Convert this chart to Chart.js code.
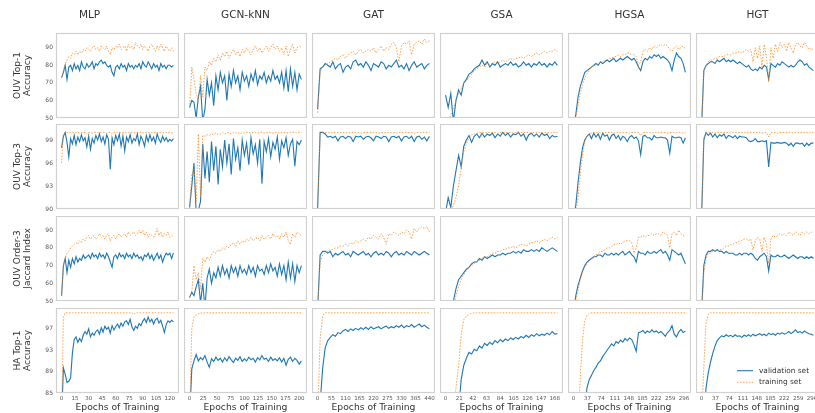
<!DOCTYPE html>
<html lang="en">
<head>
  <meta charset="UTF-8" />
  <title>Training curves</title>
  <script src="https://cdn.jsdelivr.net/npm/chart.js"></script>
  <style>
    body { margin: 0; background: #fff; }
    #wrap { position: relative; width: 815px; height: 413px; overflow: hidden; }
    #wrap canvas { position: absolute; }
  </style>
</head>
<body>
<div id="wrap"></div>

<script>
  // ---- data ----
  const models = ["MLP", "GCN-kNN", "GAT", "GSA", "HGSA", "HGT"];
  const metrics = [["OUV Top-1", "Accuracy"], ["OUV Top-3", "Accuracy"], ["OUV Order-3", "Jaccard Index"], ["HA Top-1", "Accuracy"]];
  const epochStep = [2, 4, 10, 4, 6, 6];
  const xTicks = [
    [0, 15, 30, 45, 60, 75, 90, 105, 120],
    [0, 25, 50, 75, 100, 125, 150, 175, 200],
    [0, 55, 110, 165, 220, 275, 330, 385, 440],
    [0, 21, 42, 63, 84, 105, 126, 147, 168],
    [0, 37, 74, 111, 148, 185, 222, 259, 296],
    [0, 37, 74, 111, 148, 185, 222, 259, 296]
  ];
  const yTicks = [[50, 60, 70, 80, 90], [90, 93, 96, 99], [50, 60, 70, 80, 90], [85, 89, 93, 97]];
  const yMin = [50, 90, 50, 85];
  const yMax = [98.4, 101.1, 98, 100.9];

  // MLP
  const mlpTop1Val = [73,76,80,72,79,80,77,81,78,80,77,82,79,78,81,79,80,82,78,81,80,82,83,81,82,80,79,80,76,74,79,80,78,81,79,80,77,81,79,80,78,80,79,81,78,82,80,79,82,80,78,81,79,80,77,81,79,80,78,80,80,79,80];
  const mlpTop1Train = [73,77,81,83,85,84,87,86,88,86,88,87,89,88,90,89,88,90,91,89,90,88,91,90,89,91,88,86,90,89,91,90,92,89,90,91,88,92,90,91,89,93,91,90,92,89,91,90,88,91,92,90,88,91,89,92,90,88,91,89,88,90,88];
  const mlpTop3Val = [98,99.5,100,98.7,96.8,99.2,98.5,99.6,98.4,99.4,98.8,99.7,98.9,99.3,98.1,99.5,97.8,99.2,98.6,99.6,99.0,99.8,98.8,99.4,98.5,99.7,99.1,95.2,99.3,98.4,99.6,98.9,99.8,98.2,99.5,97.6,99.4,98.8,99.7,98.6,99.2,98.9,99.8,98.4,99.5,99.0,98.2,99.6,98.8,99.7,98.9,99.4,98.6,99.8,99.1,98.7,99.5,98.9,99.3,98.8,99.1,98.9,99.2];
  const mlpTop3Train = [96,99.8,100,100,99.9,100,100,99.9,100,100,99.9,100,100,100,99.8,100,100,99.9,100,100,100,99.9,100,100,100,99.9,100,100,99.8,100,100,100,99.9,100,100,100,99.9,100,100,100,99.9,100,100,100,100,99.9,100,100,100,99.9,100,100,100,99.9,100,100,100,99.9,100,100,100,99.9,100];
  const mlpJacVal = [53,70,74,66,73,69,74,71,75,72,74,73,76,74,75,76,74,77,75,76,74,77,75,76,74,77,75,72,69,75,76,74,77,75,76,74,77,75,76,74,77,75,76,74,75,73,76,75,77,74,76,73,75,77,74,76,72,75,77,76,77,74,77];
  const mlpJacTrain = [53,70,74,77,78,80,81,82,83,82,84,83,85,84,86,87,85,86,87,85,86,88,86,87,85,87,88,84,86,87,85,87,88,86,87,88,86,89,87,88,89,87,88,90,88,90,87,89,86,88,87,86,88,91,87,89,86,88,87,89,86,87,86];
  const mlpHaVal = [80,89.7,88.5,87,87.2,87.8,92.5,95,95.5,94.5,95.2,94.6,95.8,96.5,96,97,95.5,96.2,95.8,96.5,96.8,96,97.2,96.4,97.5,96.9,97.3,96.2,97.6,96.8,97.4,97.9,97.2,98.1,97.5,98.3,98.5,97.8,98.8,97.4,96.7,97.5,97.1,98,97.6,98.4,98.9,98.2,99.2,98.3,98.8,97.9,98.7,99,98.1,98.6,97.5,96.3,97.8,98.5,98.2,98.6,98.3];
  const mlpHaTrain = [80,99.2,100,100,100,100,100,100,100,100,100,100,100,100,100,100,100,100,100,100,100,100,100,100,100,100,100,100,100,100,100,100,100,100,100,100,100,100,100,100,99.7,100,100,100,100,100,100,100,100,100,100,100,100,100,100,100,100,100,100,100,100,100,100];

  // GCN-kNN
  const gcnTop1Val = [56,60,59,50,62,68,48,55,72,63,70,57,74,66,76,70,74,60,75,68,77,70,74,66,76,71,74,68,75,71,77,69,74,72,76,70,74,71,77,72,74,70,76,67,77,65,78,68,76,66,75,72];
  const gcnTop1Train = [56,79,72,64,60,74,62,79,77,82,80,84,82,86,83,87,85,88,84,87,89,86,88,85,89,87,90,88,86,89,91,88,90,87,89,91,88,90,92,89,91,88,90,86,91,85,89,92,87,90,91,90];
  const gcnTop3Val = [90.2,93.0,96.0,89.5,89.8,91.0,98.5,94.0,97.5,93.5,98.8,95.0,98.2,93.2,97.8,95.5,99.0,96.0,98.5,94.5,99.2,96.5,98.0,95.0,99.0,97.0,98.6,95.8,99.3,97.2,98.4,96.0,99.1,93.3,98.8,97.5,99.2,96.8,98.7,97.8,99.4,96.5,98.9,98.0,99.3,97.0,98.5,99.1,95.6,98.8,98.4,99.0];
  const gcnTop3Train = [90,94.5,95.2,91.0,99.8,91.5,99.6,99.5,99.7,99.6,99.8,99.7,99.9,99.7,99.8,100,99.8,99.9,100,99.8,100,99.9,100,99.8,100,99.9,100,100,99.9,100,100,99.9,100,100,99.9,100,100,100,99.9,100,100,99.9,100,100,100,99.9,100,100,100,99.9,100,100];
  const gcnJacVal = [52,55,53,58,62,49,60,46,63,68,60,66,63,69,64,70,65,68,63,70,66,69,64,70,66,68,65,70,66,69,64,70,67,68,65,70,66,71,67,69,64,71,65,70,62,72,63,71,61,70,66,70];
  const gcnJacTrain = [52,55,70,62,66,57,74,72,75,73,76,78,77,79,78,80,79,81,80,82,83,81,84,82,84,83,85,84,86,84,85,86,84,87,85,86,87,85,88,86,87,85,88,86,89,84,82,88,86,89,88,87];
  const gcnHaVal = [80,89.5,91,92.2,91,91.6,91.2,92,90.8,89.8,91.4,90.9,91.7,91.1,91.5,90.8,91.6,91,91.8,91.2,90.7,91.5,91.1,91.8,90.9,91.4,91,91.7,91.2,91.5,90.8,91.6,91.2,92,91.3,91.5,90.9,91.7,91.1,91.4,91,91.6,90.8,91.5,90.2,91.3,91.7,90.9,91.5,91.1,90.4,91];
  const gcnHaTrain = [80,97,99.2,99.6,99.8,100,99.9,100,100,100,100,100,100,100,100,100,100,100,100,100,100,100,100,100,100,100,100,100,100,100,100,100,100,100,100,100,100,100,100,100,100,100,100,100,100,100,100,100,100,100,100,100];

  // GAT
  const gatTop1Val = [55,78,79,81,80,79,82,78,80,81,76,79,80,78,82,83,80,81,79,82,80,77,81,80,79,82,81,78,80,79,81,83,79,80,78,81,77,80,82,79,80,81,78,80,81];
  const gatTop1Train = [53,76,79,80,81,82,83,84,83,85,86,84,86,87,88,86,88,89,87,88,89,88,90,87,89,91,88,90,89,92,93,90,82,91,93,92,94,86,92,93,94,92,95,93,94];
  const gatTop3Val = [90,100,100,99.8,99.4,99.5,99.3,99.5,98.9,99.4,99.5,99.2,99.5,99.4,98.8,99.5,99.4,99.5,99.1,99.4,99.5,99.3,98.9,99.5,99.4,99.2,99.5,99.4,98.8,99.4,99.5,99.3,99.5,98.9,99.4,99.5,99.2,99.5,98.8,99.4,99.5,99.1,99.4,98.9,99.5];
  const gatTop3Train = [90,99.9,100,100,100,99.9,100,100,100,100,100,99.9,100,100,100,100,100,99.9,100,100,100,100,100,100,99.9,100,100,100,100,100,100,99.9,100,100,100,100,100,100,99.9,100,100,100,100,100,100];
  const gatJacVal = [45,76,78,78,77,78,75,77,76,77,78,76,77,75,78,77,76,77,78,76,77,75,77,78,76,77,76,78,77,75,77,78,76,77,76,78,77,76,78,77,76,77,78,77,76];
  const gatJacTrain = [45,72,76,77,78,79,79,80,80,81,81,82,81,83,82,84,83,84,85,84,86,85,87,86,85,88,86,82,88,87,89,88,87,89,88,90,89,85,91,89,91,92,91,92,89];
  const gatHaVal = [80,83,89.7,93.5,94.8,95.4,95.9,95.6,96.3,96.1,96.6,96.9,96.5,97.0,96.7,97.1,96.8,97.2,96.9,97.3,96.9,97.4,97.0,97.2,97.4,97.0,97.3,97.5,97.1,97.4,97.2,97.6,97.3,97.7,97.2,97.6,97.4,97.8,97.3,97.6,97.9,97.4,97.7,97.3,97.0];
  const gatHaTrain = [80,95,99.5,100,100,100,100,100,100,100,100,100,100,100,100,100,100,100,100,100,100,100,100,100,100,100,100,100,100,100,100,100,100,100,100,100,100,100,100,100,100,100,100,100,100];

  // GSA
  const gsaTop1Val = [63,56,64,48,60,66,63,70,72,75,76,78,79,80,83,80,82,79,81,80,82,79,80,81,80,82,80,81,79,80,82,80,81,79,81,80,82,80,81,79,81,80,82,80];
  const gsaTop1Train = [50,48,52,55,60,64,67,70,71,73,75,77,78,79,80,79,81,80,81,82,81,82,83,82,83,84,83,84,84,85,84,85,86,85,86,87,86,87,88,87,88,88,89,88];
  const gsaTop3Val = [89.5,91.5,90.2,93.0,95.0,97.0,95.5,98.2,99.0,99.6,98.7,99.5,99.8,99.3,99.9,99.4,99.8,99.6,99.9,99.3,99.8,99.5,100,99.6,99.9,99.4,99.8,99.7,100,99.5,99.8,99.0,99.7,99.9,99.5,99.8,99.4,99.9,99.6,99.8,99.2,99.6,99.4,99.5];
  const gsaTop3Train = [88.5,89.0,89.5,90.5,91.5,93.0,95.5,97.5,98.5,99.3,99.7,99.8,99.9,100,100,99.9,100,100,100,100,99.9,100,100,100,100,100,99.9,100,100,100,100,100,100,99.9,100,100,100,100,100,100,99.9,100,100,100];
  const gsaJacVal = [44,44,45,50,57,62,64,66,68,69,71,72,72,74,73,75,74,75,76,75,76,76,77,76,77,77,78,77,78,77,79,78,78,79,78,79,78,80,79,78,79,80,79,78];
  const gsaJacTrain = [44,44,44,46,53,58,62,65,67,69,70,71,72,73,74,75,75,76,77,77,78,78,79,79,80,80,81,80,81,82,82,81,82,83,83,84,83,84,85,84,85,86,85,86];
  const gsaHaVal = [80,80,80,80,80,82,87.5,90.2,91.5,92.6,92.3,93.2,92.9,93.8,93.4,94.3,93.9,94.5,94.1,94.8,94.4,95,94.6,95.1,94.8,95.3,95,95.4,95.1,95.6,95.3,95.8,95.4,95.9,95.6,96.1,95.7,96,95.8,96.2,95.9,96.5,96,96.1];
  const gsaHaTrain = [80,80,80,80,86,90,96,98.7,99.4,99.7,99.9,100,100,100,100,100,100,100,100,100,100,100,100,100,100,100,100,100,100,100,100,100,100,100,100,100,100,100,100,100,100,100,100,100];

  // HGSA
  const hgsaTop1Val = [45,52,62,68,72,76,77,78,79,80,81,80,82,81,82,83,82,83,84,82,83,84,83,84,85,84,83,84,82,79,77,82,84,83,85,84,86,85,86,84,85,84,83,81,77,83,87,85,84,81,76];
  const hgsaTop1Train = [45,50,57,64,69,73,75,77,79,80,80,81,82,82,83,83,84,84,85,85,86,85,86,86,87,87,86,86,85,80,82,88,89,88,90,89,91,90,91,92,91,92,91,89,88,90,91,89,90,91,89];
  const hgsaTop3Val = [89,90.5,93.5,96,98,99,99.5,99.8,99.2,99.9,99.4,99.8,99.1,99.9,99.5,99.7,99.0,99.6,99.8,99.2,99.6,99.0,99.5,99.3,98.8,99.4,99.6,99.2,99.4,98.9,97.1,99.5,99.6,99.3,99.3,99.0,99.6,99.3,99.3,99.4,99.3,99.3,99.0,97.3,99.5,99.3,99.3,99.4,99.3,98.6,99.3];
  const hgsaTop3Train = [88.5,89.5,91.5,94.5,97,98.8,99.5,99.8,99.9,100,100,100,99.9,100,100,100,100,100,99.9,100,100,100,100,100,100,99.9,100,100,100,100,99.6,100,100,100,100,99.9,100,100,100,100,100,100,99.9,100,100,100,100,100,100,99.9,100];
  const hgsaJacVal = [44,53,59,63,67,70,72,73,74,75,75,76,76,75,77,76,76,77,76,77,76,77,78,76,77,78,76,75,72,78,77,77,76,78,77,77,78,77,78,79,77,78,76,73,79,78,77,76,77,74,71];
  const hgsaJacTrain = [44,51,56,62,66,69,71,73,74,75,76,77,78,78,79,80,80,81,82,82,83,82,83,84,84,84,83,77,80,86,86,87,86,87,87,88,87,88,88,87,89,88,87,80,88,89,87,90,88,87,86];
  const hgsaHaVal = [80,80,80,80,80,82,86,87.5,88.3,89.2,89.8,90.6,91,91.8,92.4,93,93.6,94.2,93.8,94.6,94.3,94.9,94.5,95.2,94.8,95.3,95,94,92.8,96.3,96.4,96.7,96.2,96.6,96.3,96.8,96.4,96.6,96.2,96.5,96.1,95.6,96.3,96.7,97.6,96,95.5,96.4,96.9,96.3,96.6];
  const hgsaHaTrain = [80,80,80,88,95,98.5,99.5,99.9,100,100,100,100,100,100,100,100,100,100,100,100,100,100,100,100,100,100,100,100,100,100,100,100,100,100,100,100,100,100,100,100,100,100,100,100,100,100,100,100,100,100,100];

  // HGT
  const hgtTop1Val = [45,77,80,81,82,82,81,83,82,83,84,82,83,82,83,82,81,82,81,80,79,80,78,77,78,77,79,78,80,79,72,81,80,79,81,80,82,81,80,79,80,79,80,82,83,82,80,81,79,78,77];
  const hgtTop1Train = [45,76,80,82,83,83,84,84,85,85,85,86,86,86,87,87,87,88,87,88,89,88,89,82,90,84,91,79,92,85,71,90,84,92,88,93,90,92,88,93,90,87,92,93,91,90,93,91,89,90,88];
  const hgtTop3Val = [89,99,100,99.6,99.9,99.4,99.8,99.3,99.7,99.5,99.8,99.2,99.6,99.5,99.3,99.6,99.2,99.5,99.4,99.4,99.3,98.9,98.8,98.9,99.2,98.8,98.8,98.9,98.8,98.9,95.5,98.7,98.6,98.6,98.7,98.6,98.6,98.7,98.6,98.3,98.6,98.2,98.6,98.6,98.5,98.6,98.2,98.6,98.3,98.6,98.6];
  const hgtTop3Train = [89,99.5,99.9,100,100,100,99.9,100,100,100,100,100,100,99.9,100,100,100,100,100,100,99.9,100,100,100,100,100,100,99.9,100,100,99.4,100,100,100,99.9,100,100,100,100,100,100,99.9,100,100,100,100,100,100,99.9,100,100];
  const hgtJacVal = [44,70,76,78,78,79,78,79,78,78,77,78,77,77,77,76,76,77,76,77,77,76,77,76,74,73,75,76,77,75,67,76,75,75,76,75,75,76,75,74,75,76,75,74,75,75,74,75,74,75,74];
  const hgtJacTrain = [44,66,74,77,77,78,78,78,79,79,80,81,81,82,82,83,83,84,84,85,85,84,85,79,84,86,85,78,86,82,71,85,87,86,87,88,87,88,87,89,88,87,89,88,87,89,88,89,88,89,88];
  const hgtHaVal = [80,80,86,88.8,90.8,92.4,93.8,94.8,95.3,95.7,95.5,95.9,95.6,95.8,95.5,95.9,95.6,95.7,95.4,95.8,95.6,95.9,95.6,96,95.7,95.9,96.1,95.8,96,95.7,96.2,95.9,96.1,95.8,96.2,96,96.3,96,96.2,96.5,96.1,96.4,96.8,96.3,96.5,96.2,96.6,96.3,96.1,96,95.8];
  const hgtHaTrain = [80,90,98,99.7,100,100,100,100,100,100,100,100,100,100,100,100,100,100,100,100,100,100,100,100,100,100,100,100,100,100,100,100,100,100,100,100,100,100,100,100,100,100,100,100,100,100,100,100,100,100,100];

  const panels = [
    [[mlpTop1Val, mlpTop1Train], [gcnTop1Val, gcnTop1Train], [gatTop1Val, gatTop1Train], [gsaTop1Val, gsaTop1Train], [hgsaTop1Val, hgsaTop1Train], [hgtTop1Val, hgtTop1Train]],
    [[mlpTop3Val, mlpTop3Train], [gcnTop3Val, gcnTop3Train], [gatTop3Val, gatTop3Train], [gsaTop3Val, gsaTop3Train], [hgsaTop3Val, hgsaTop3Train], [hgtTop3Val, hgtTop3Train]],
    [[mlpJacVal, mlpJacTrain], [gcnJacVal, gcnJacTrain], [gatJacVal, gatJacTrain], [gsaJacVal, gsaJacTrain], [hgsaJacVal, hgsaJacTrain], [hgtJacVal, hgtJacTrain]],
    [[mlpHaVal, mlpHaTrain], [gcnHaVal, gcnHaTrain], [gatHaVal, gatHaTrain], [gsaHaVal, gsaHaTrain], [hgsaHaVal, hgsaHaTrain], [hgtHaVal, hgtHaTrain]]
  ];

  // ---- layout ----
  const colLeft = [56, 184, 312, 440, 568, 696];
  const rowTop = [33, 124, 216, 308];
  const plotW = 123, plotH = 85;
  const blue = "#1f77b4";
  const orange = "rgba(255,127,14,0.75)";

  Chart.defaults.font.family = "'DejaVu Sans', sans-serif";

  const frame = {
    id: "frame",
    afterDatasetsDraw(chart) {
      const { ctx, chartArea: a } = chart;
      ctx.save();
      ctx.strokeStyle = "#d0d0d0";
      ctx.lineWidth = 1.2;
      ctx.strokeRect(a.left + 0.5, a.top + 0.5, a.width - 1, a.height - 1);
      ctx.restore();
    }
  };

  const legendBox = {
    id: "legendBox",
    afterDraw(chart) {
      const { ctx, chartArea: a } = chart;
      ctx.save();
      ctx.font = "7.4px 'DejaVu Sans'";
      ctx.textBaseline = "middle";
      chart.data.datasets.forEach((ds, i) => {
        const y = a.top + 62.7 + i * 11.6;
        ctx.strokeStyle = ds.borderColor;
        ctx.lineWidth = ds.borderWidth;
        ctx.setLineDash(ds.borderDash || []);
        ctx.beginPath();
        ctx.moveTo(a.left + 41, y);
        ctx.lineTo(a.left + 57, y);
        ctx.stroke();
        ctx.fillStyle = "#333";
        ctx.fillText(ds.label, a.left + 63, y);
      });
      ctx.restore();
    }
  };

  const wrap = document.getElementById("wrap");

  for (let r = 0; r < 4; r++) {
    for (let c = 0; c < 6; c++) {
      const [val, train] = panels[r][c];
      const step = epochStep[c];
      const last = step * (val.length - 1);
      const pts = arr => arr.map((v, i) => ({ x: i * step, y: v }));

      const L = c === 0 ? 56 : 0;
      const T = r === 0 ? 33 : 0;
      const B = r === 3 ? 20 : 0;
      // room below the first column so the lowest y tick label is not cut
      const E = (c === 0 && r < 3) ? 5 : 0;

      const cv = document.createElement("canvas");
      cv.width = plotW + L;
      cv.height = plotH + T + B + E;
      cv.style.left = (colLeft[c] - L) + "px";
      cv.style.top = (rowTop[r] - T) + "px";
      wrap.appendChild(cv);

      const plugins = [frame];
      if (r === 3 && c === 5) plugins.push(legendBox);

      new Chart(cv, {
        type: "line",
        data: {
          datasets: [
            { label: "validation set", data: pts(val), borderColor: blue, borderWidth: 1.1, pointRadius: 0, order: 1 },
            { label: "training set", data: pts(train), borderColor: orange, borderWidth: 1, borderDash: [1.5, 1.5], pointRadius: 0, order: 0 }
          ]
        },
        options: {
          responsive: false,
          animation: false,
          devicePixelRatio: 1,
          layout: { padding: { left: 0, right: 0, top: 0, bottom: E } },
          plugins: {
            legend: { display: false },
            tooltip: { enabled: false },
            title: {
              display: r === 0,
              text: models[c],
              color: "#333",
              font: { size: 10.5, weight: "normal" },
              padding: { top: 8.7, bottom: 11.7 }
            }
          },
          scales: {
            x: {
              type: "linear",
              min: -0.05 * last,
              max: 1.05 * last,
              display: r === 3,
              grid: { display: false, drawTicks: false },
              border: { display: false },
              afterBuildTicks: s => { s.ticks = xTicks[c].map(v => ({ value: v })); },
              afterFit: s => { s.height = B; s.paddingLeft = 0; s.paddingRight = 0; },
              ticks: { font: { size: 5.5 }, color: "#555", padding: 2, maxRotation: 0, autoSkip: false },
              title: { display: true, text: "Epochs of Training", color: "#333", font: { size: 9.2, lineHeight: 1.2 }, padding: 0 }
            },
            y: {
              min: yMin[r],
              max: yMax[r],
              display: c === 0,
              grid: { display: false, drawTicks: false },
              border: { display: false },
              afterBuildTicks: s => { s.ticks = yTicks[r].map(v => ({ value: v })); },
              afterFit: s => { s.width = L; s.paddingTop = 0; s.paddingBottom = 0; },
              ticks: { font: { size: 6 }, color: "#555", padding: 3 },
              title: { display: true, text: metrics[r], color: "#333", font: { size: 9, lineHeight: 1.1 }, padding: { top: 13, bottom: 0 } }
            }
          }
        },
        plugins: plugins
      });
    }
  }
</script>

</body>
</html>
